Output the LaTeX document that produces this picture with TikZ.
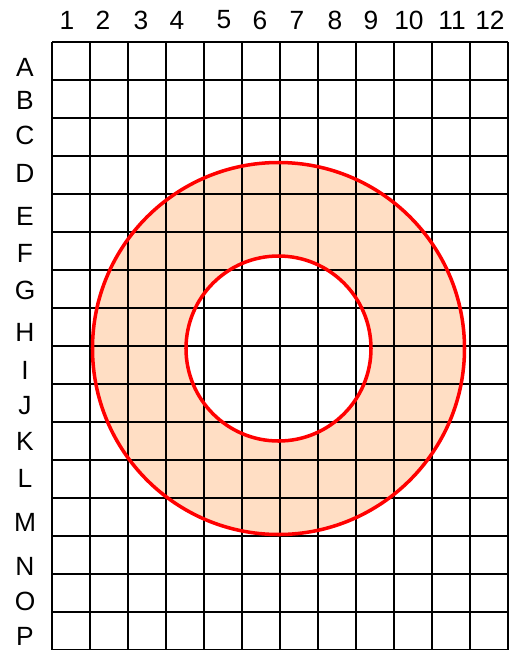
\documentclass[tikz,border=0pt]{standalone}
\usepackage{fontspec}
\setmainfont{Liberation Sans}
\definecolor{ringfill}{RGB}{255,222,196}
\begin{document}
\begin{tikzpicture}[x=0.02cm,y=-0.02cm,font=\fontsize{15}{18}\selectfont]
\useasboundingbox (0,0) rectangle (518,650);
% The shaded ring between the two circles.
\fill[ringfill,even odd rule] (278.5,348.5) circle (186) (278.5,348.5) circle (92.5);
% Grid of 12 columns and 16 rows.
\foreach \i in {0,...,12}{
\draw[line width=1pt] (52+38*\i,42)--(52+38*\i,650);}
\foreach \j in {0,...,16}{
\draw[line width=1pt] (52,42+38*\j)--(508,42+38*\j);}
\draw[red,line width=2pt] (278.5,348.5) circle (186);
\draw[red,line width=2pt] (278.5,348.5) circle (92.5);
% Column numbers and row letters.
\foreach \n/\x in {1/67,2/103,3/141,4/177,5/224,6/260,7/297,8/335,9/371,10/409,11/452,12/490}{
\node (col\n) at (\x,20) {\n};}
\foreach \r/\y in {A/67,B/100,C/135,D/173,E/216,F/253,G/290,H/332,I/370,J/406,K/441,L/478,M/522,N/566,O/601,P/636}{
\node (row\r) at (25,\y) {\r};}
\end{tikzpicture}
\end{document}
